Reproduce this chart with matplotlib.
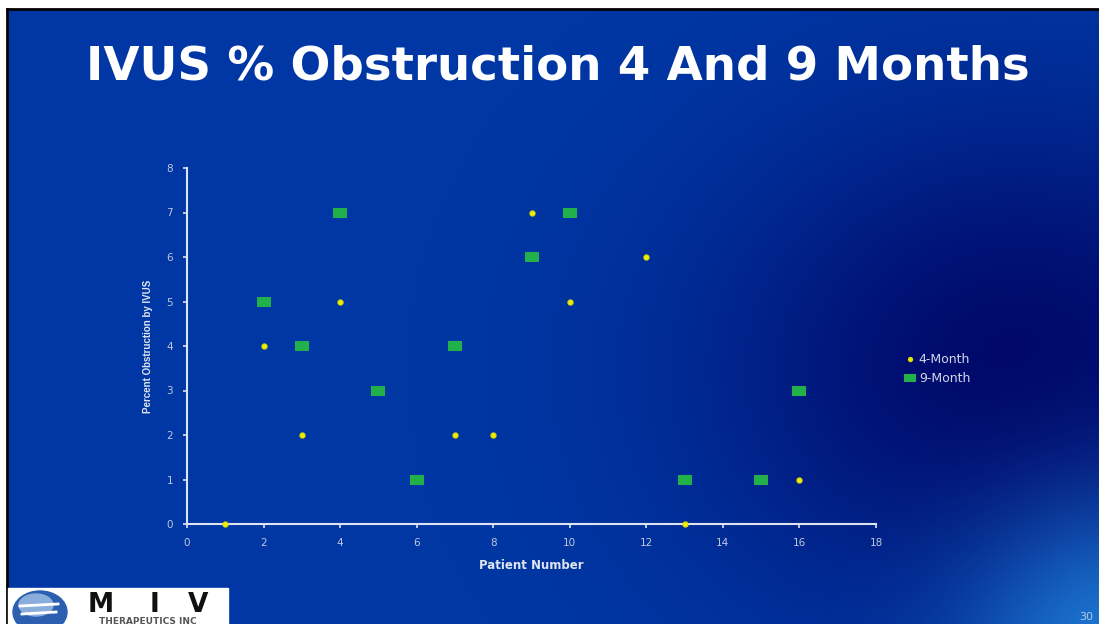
import numpy as np
import matplotlib.pyplot as plt
from matplotlib.path import Path
from matplotlib.patches import Rectangle, Ellipse

# ---- data ----
patients_4m = [1, 2, 3, 4, 7, 8, 9, 10, 12, 13, 16]
obstruction_4m = [0, 4, 2, 5, 2, 2, 7, 5, 6, 0, 1]
patients_9m = [2, 3, 4, 5, 6, 7, 9, 10, 13, 15, 16]
obstruction_9m = [5, 4, 7, 3, 1, 4, 6, 7, 1, 1, 3]
x_ticks = list(range(0, 19, 2))
y_ticks = list(range(0, 9))
series_labels = ["4-Month", "9-Month"]
title = "IVUS % Obstruction 4 And 9 Months"

plt.rcParams['font.family'] = ['DejaVu Sans']

W, H = 1099, 624
fig = plt.figure(figsize=(W / 100, H / 100), dpi=100)

# ---- background ----
bg = fig.add_axes([0, 0, 1, 1])
yy, xx = np.mgrid[0:H, 0:W]
base = np.array([0, 56, 165]) / 255
dark = np.array([0, 8, 105]) / 255
light = np.array([30, 120, 210]) / 255
d = np.exp(-(((xx - 1020) / 220) ** 2 + ((yy - 370) / 180) ** 2) / 2)
l = np.exp(-(((xx - 1120) / 110) ** 2 + ((yy - 660) / 110) ** 2) / 2)
img = base * (1 - d[..., None]) + dark * d[..., None]
img = img * (1 - l[..., None]) + light * l[..., None]
bg.imshow(img, extent=[0, W, H, 0], aspect='auto', zorder=0)
bg.set_xlim(0, W)
bg.set_ylim(H, 0)
bg.axis('off')
bg.add_patch(Rectangle((0, 0), W, 8, color='white', zorder=1))
bg.add_patch(Rectangle((0, 0), 7, H, color='white', zorder=1))
bg.plot([7, W], [9, 9], color='black', lw=2, zorder=2)
bg.plot([7, 7], [9, H], color='black', lw=2, zorder=2)

bg.text(558, 67, title, ha='center', va='center', fontsize=33.7,
        fontweight='bold', color='white', zorder=3)

# logo
bg.add_patch(Rectangle((8, 588), 220, 40, color='white', zorder=3))
bg.add_patch(Ellipse((40, 612), 54, 42, color='#2c5fb0', zorder=4))
bg.add_patch(Ellipse((36, 605), 34, 22, color='#8aaedc', zorder=4))
bg.plot([20, 58], [606, 604], color='white', lw=2, zorder=5)
bg.plot([22, 56], [614, 612], color='white', lw=2, zorder=5)
bg.text(101, 605, "M", fontsize=19, fontweight='bold', color='#111111',
        ha='center', va='center', zorder=5)
bg.text(155, 605, "I", fontsize=19, fontweight='bold', color='#111111',
        ha='center', va='center', zorder=5)
bg.text(198, 605, "V", fontsize=19, fontweight='bold', color='#111111',
        ha='center', va='center', zorder=5)
bg.text(148, 621, "THERAPEUTICS INC", fontsize=6.5, fontweight='bold',
        color='#555555', ha='center', va='center', zorder=5)

bg.text(1086, 617, "30", fontsize=8, color='#b0c8e8', ha='center', va='center', zorder=3)

# ---- chart ----
ax = fig.add_axes([187 / W, 1 - 524 / H, 689 / W, 356 / H])
ax.patch.set_alpha(0)
axis_col = '#dde4f0'
for s in ['top', 'right']:
    ax.spines[s].set_visible(False)
for s in ['left', 'bottom']:
    ax.spines[s].set_color(axis_col)
    ax.spines[s].set_linewidth(1.5)
ax.set_xlim(0, 18)
ax.set_ylim(0, 8)
ax.set_xticks(x_ticks)
ax.set_yticks(y_ticks)
ax.tick_params(colors=axis_col, labelcolor='#c0c8dc', labelsize=7.5,
               length=3, width=1.2, direction='out', pad=7)

rect = Path([(-1.4, -1), (1.4, -1), (1.4, 1), (-1.4, 1), (-1.4, -1)],
            [Path.MOVETO, Path.LINETO, Path.LINETO, Path.LINETO, Path.CLOSEPOLY])
ax.plot(patients_4m, obstruction_4m, linestyle='none', marker='o', ms=3.5,
        color='#f2f000', markeredgecolor='#e0e000', clip_on=False, zorder=5,
        label=series_labels[0])
ax.plot(patients_9m, obstruction_9m, linestyle='none', marker=rect, ms=10,
        color='#22b04a', markeredgewidth=0, clip_on=False, zorder=4,
        label=series_labels[1])

ax.set_xlabel("Patient Number", fontsize=8.5, fontweight='bold', color='#e0e6f0', labelpad=8)
ax.set_ylabel("Percent Obstruction by IVUS", fontsize=7, fontweight='bold',
              color='#e0e6f0', labelpad=10, family='Liberation Sans')

leg = ax.legend(loc='upper left', bbox_to_anchor=(900 / W, 1 - 348 / H),
                bbox_transform=fig.transFigure, frameon=False, fontsize=9,
                labelcolor='#d0d8e8', handlelength=0.8, handletextpad=0.3,
                borderaxespad=0, labelspacing=0.5, markerscale=0.8)

fig.savefig("out.png", dpi=100)
